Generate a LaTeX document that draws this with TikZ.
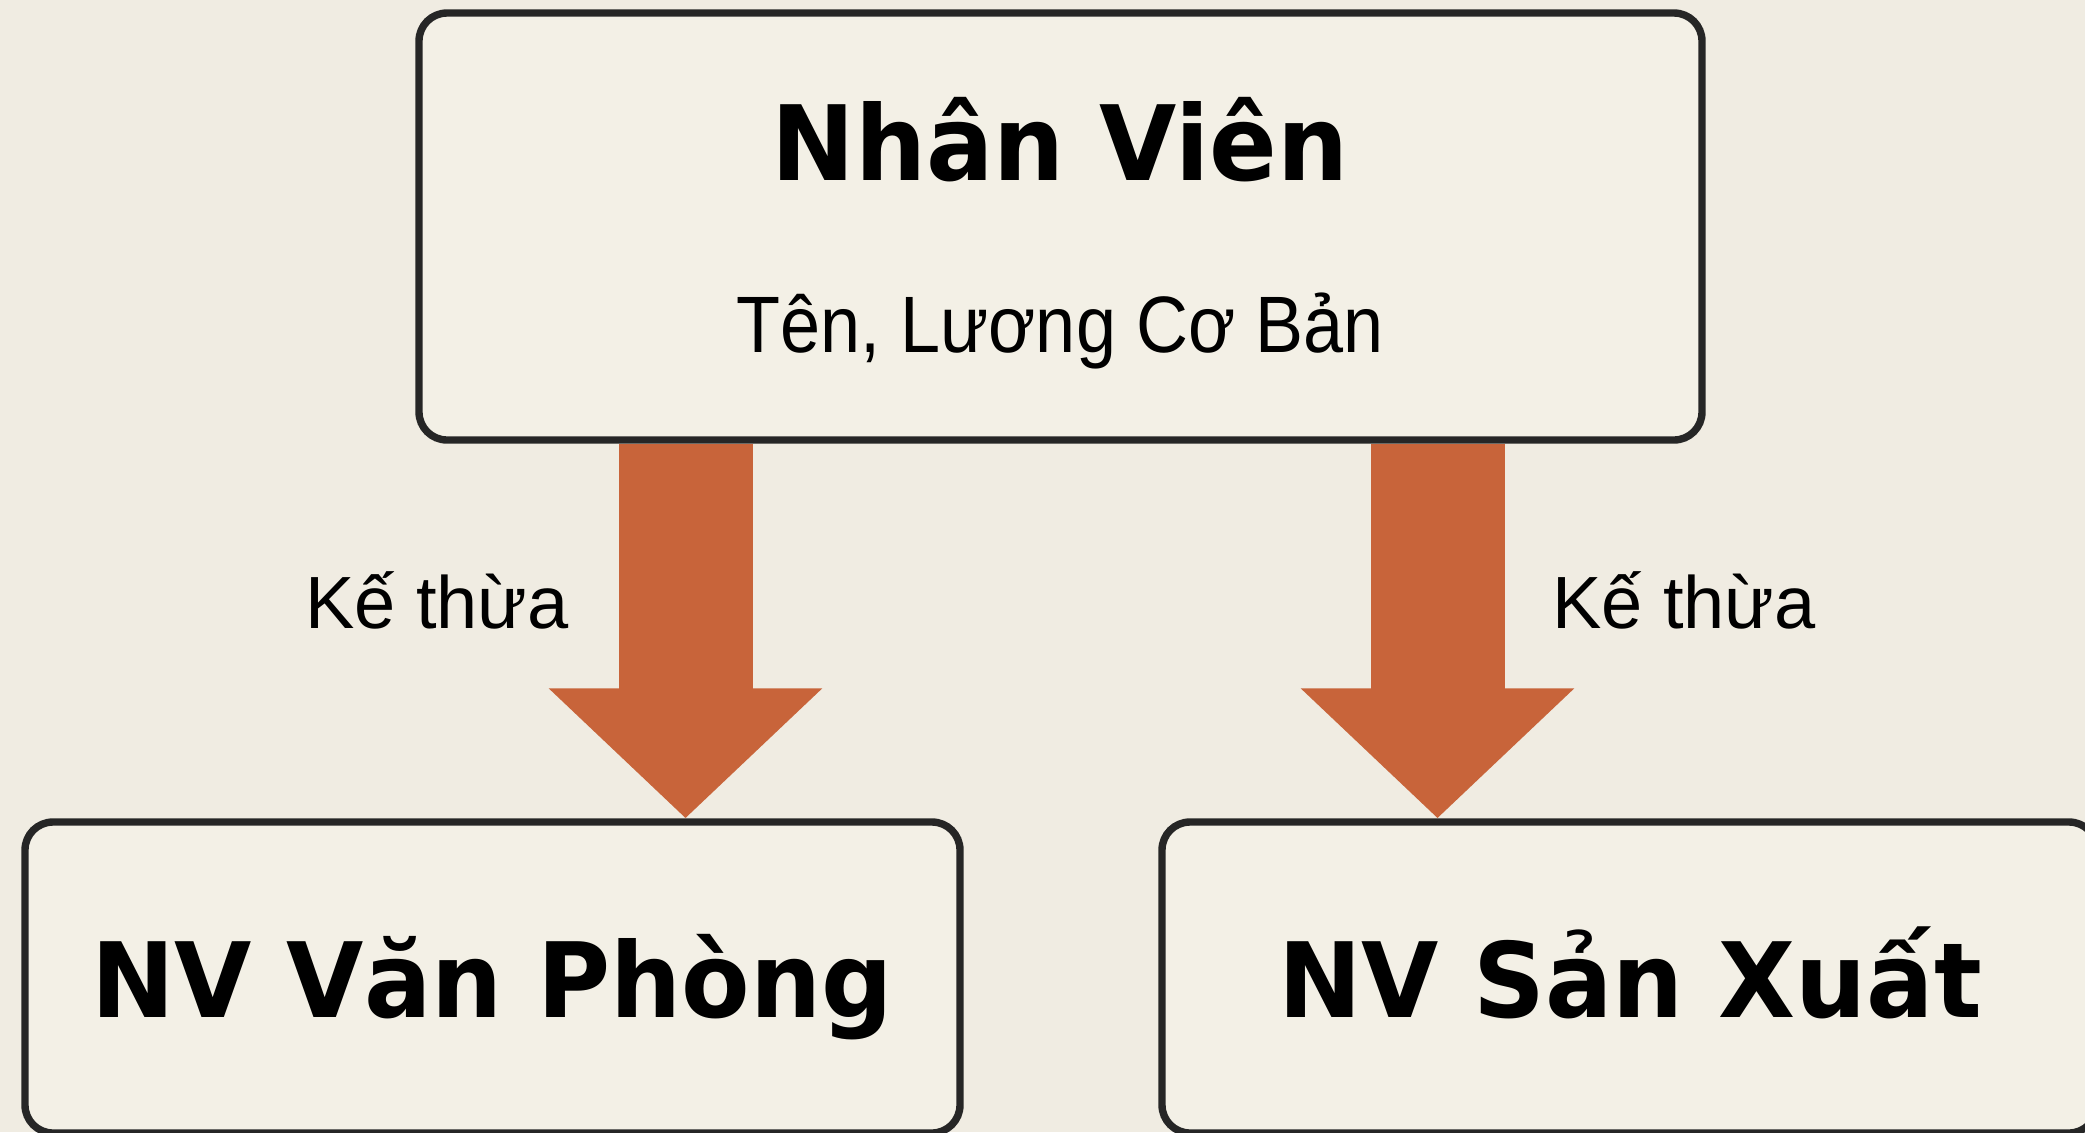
\documentclass[tikz,border=0pt]{standalone}
\usepackage{fontspec}
\setmainfont{Liberation Sans}
\newfontfamily\titlefont{DejaVu Sans}[FakeStretch=0.96]
\newfontfamily\subfont{Liberation Sans}[FakeStretch=0.9]
\usetikzlibrary{arrows.meta,calc}
\pgfdeclarelayer{back}
\pgfdeclarelayer{mid}
\pgfsetlayers{back,mid,main}
\definecolor{bgc}{HTML}{F0ECE2}
\definecolor{boxfill}{HTML}{F3F0E6}
\definecolor{boxline}{HTML}{262626}
\definecolor{arrowc}{HTML}{C8643A}
\tikzset{
  box/.style={draw=boxline, fill=boxfill, line width=3.7pt, rounded corners=14pt, inner sep=0pt},
  title/.style={anchor=base, inner sep=0pt, font=\titlefont\bfseries\fontsize{52}{60}\selectfont, text=black},
  subtitle/.style={anchor=base, inner sep=0pt, font=\subfont\fontsize{40}{48}\selectfont, text=black},
  lbl/.style={anchor=base, inner sep=0pt, font=\fontsize{37}{44}\selectfont, text=black},
  bigarrow/.style={draw=arrowc, line width=67pt, -{Triangle[width=133pt,length=65pt]}}
}
\begin{document}
\begin{tikzpicture}[x=0.5pt,y=-0.5pt]
\begin{pgfonlayer}{back}
\fill[bgc] (0,0) rectangle (2085,1132);
\end{pgfonlayer}
\useasboundingbox (0,0) rectangle (2085,1132);
\clip (0,0) rectangle (2085,1132);
% boxes
\node[box, minimum width=641.5pt, minimum height=213.5pt] (top) at (1060.5,226.5) {};
\node[box, minimum width=467.5pt, minimum height=155.5pt] (left) at (492.5,977.5) {};
\node[box, minimum width=467.5pt, minimum height=155.5pt] (right) at (1629.5,977.5) {};
% texts
\node[title] (tname) at (1060,180) {Nhân Viên};
\node[subtitle] (tattr) at (1060,352) {Tên, Lương Cơ Bản};
\node[title] (lname) at (492,1017) {NV Văn Phòng};
\node[title] (rname) at (1630,1017) {NV Sản Xuất};
% arrows
\coordinate (a1s) at ($(top.south)+(-375,0)$);
\coordinate (a2s) at ($(top.south)+(377,0)$);
\begin{pgfonlayer}{mid}
\draw[bigarrow] (a1s) -- (a1s |- left.north);
\draw[bigarrow] (a2s) -- (a2s |- right.north);
\end{pgfonlayer}
\node[lbl] (k1) at (437,628) {Kế thừa};
\node[lbl] (k2) at (1684,628) {Kế thừa};
\end{tikzpicture}
\end{document}
